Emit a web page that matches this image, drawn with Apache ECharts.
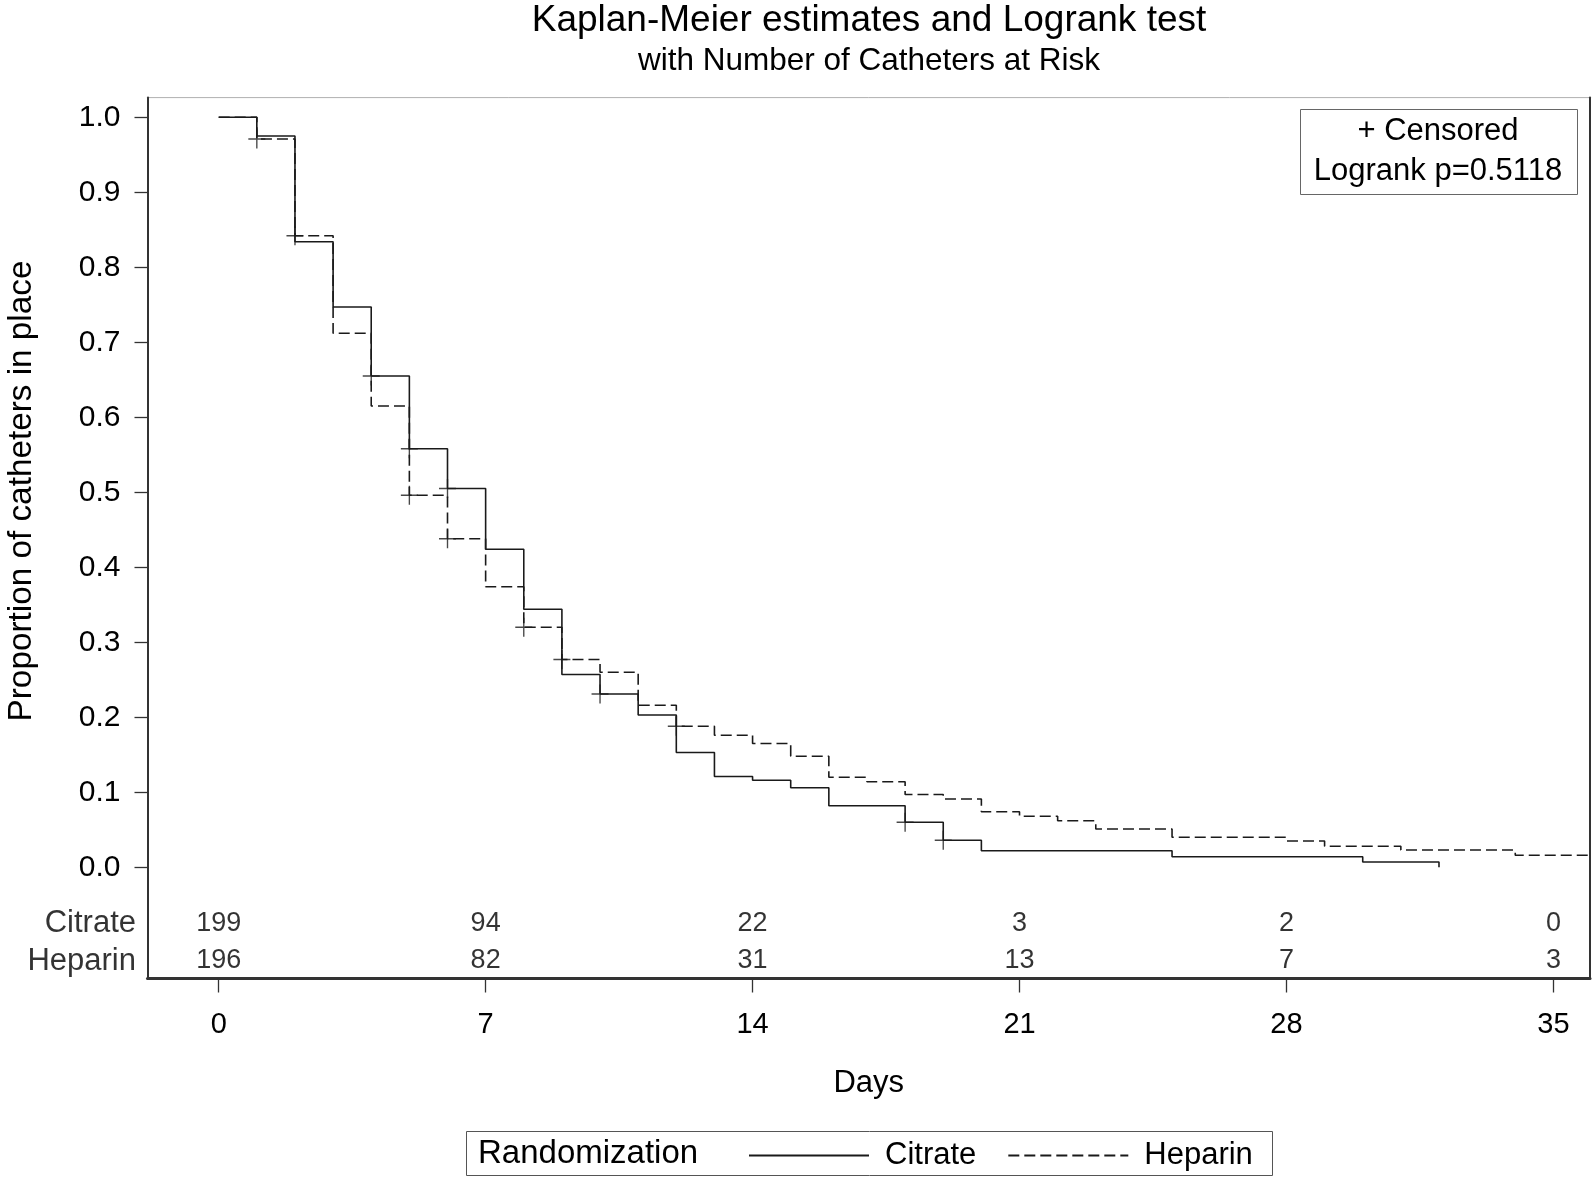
<!DOCTYPE html>
<html><head><meta charset="utf-8">
<script src="https://cdn.jsdelivr.net/npm/echarts@6/dist/echarts.min.js"></script>
<style>html,body{margin:0;padding:0;background:#fff}#c{width:1595px;height:1180px}</style>
</head><body><div id="c"></div>
<script>
// ---- data ----
const citrateTime = [0,1,2,3,4,5,6,7,8,9,10,11,12,13,14,15,16,18,19,20,25,30,32];
const citrateSurv = [1.0,0.975,0.834,0.747,0.655,0.558,0.505,0.424,0.344,0.257,0.231,0.203,0.153,0.121,0.116,0.106,0.082,0.060,0.036,0.022,0.014,0.007,0.0];
const heparinTime = [0,1,2,3,4,5,6,7,8,9,10,11,12,13,14,15,16,17,18,19,20,21,22,23,25,28,29,31,34,36];
const heparinSurv = [1.0,0.971,0.842,0.712,0.615,0.496,0.438,0.374,0.320,0.277,0.260,0.216,0.188,0.176,0.165,0.148,0.120,0.114,0.097,0.091,0.074,0.068,0.062,0.051,0.040,0.035,0.028,0.023,0.016,0.016];
const citrateCensorTime = [4,5,6,10,18,19];
const citrateCensorSurv = [0.655,0.558,0.505,0.231,0.060,0.036];
const heparinCensorTime = [1,2,5,6,8,9,12];
const heparinCensorSurv = [0.971,0.842,0.496,0.438,0.320,0.277,0.188];
const riskDays = [0,7,14,21,28,35];
const citrateAtRisk = [199,94,22,3,2,0];
const heparinAtRisk = [196,82,31,13,7,3];
const groups = ['Citrate','Heparin'];
const xTicks = [0,7,14,21,28,35];
const yTicks = [0,0.1,0.2,0.3,0.4,0.5,0.6,0.7,0.8,0.9,1.0];

// ---- layout ----
const FONT = '"Liberation Sans", Arial, sans-serif';
const X_MIN = -1.867, X_MAX = 35.96, Y_MIN = -0.1483, Y_MAX = 1.0263;
const ROW_Y = [-0.0750, -0.1250];
const PLUS = 'path://M0,9.2h20v1.6h-20z M9.2,0h1.6v20h-1.6z';
const INK = '#1a1a1a';

const chart = echarts.init(document.getElementById('c'));
const pairs = (xs, ys) => xs.map((x, i) => [x, ys[i]]);

const option = {
  animation: false,
  backgroundColor: '#fff',
  textStyle: { fontFamily: FONT, color: '#000' },
  grid: { left: 147.5, right: 5, top: 97.6, bottom: 201.5, show: true, borderColor: '#b0b0b0', borderWidth: 1, backgroundColor: 'transparent' },
  legend: {
    data: groups, left: 743, top: 1135, itemWidth: 120, itemHeight: 20, itemGap: 31,
    itemStyle: { opacity: 0 },
    textStyle: { fontSize: 31, fontFamily: FONT, color: '#000', padding: [0,0,0,11] },
    selectedMode: false
  },
  xAxis: {
    type: 'value', min: X_MIN, max: X_MAX,
    name: 'Days', nameLocation: 'middle', nameGap: 89,
    nameTextStyle: { fontSize: 31, fontFamily: FONT, color: '#000' },
    axisLine: { show: true, onZero: false, lineStyle: { color: '#333', width: 3 } },
    axisTick: { show: true, customValues: xTicks, length: 14, lineStyle: { color: '#333', width: 1.3 } },
    axisLabel: { customValues: xTicks, fontSize: 29, fontFamily: FONT, color: '#000', margin: 32, formatter: v => String(v) },
    splitLine: { show: false }
  },
  yAxis: [{
    type: 'value', min: Y_MIN, max: Y_MAX,
    axisLine: { show: true, onZero: false, lineStyle: { color: '#333', width: 2 } },
    axisTick: { show: true, customValues: yTicks, length: 13, lineStyle: { color: '#333', width: 1.3 } },
    axisLabel: { customValues: yTicks, fontSize: 30, fontFamily: FONT, color: '#000', margin: 27, formatter: v => v.toFixed(1) },
    splitLine: { show: false }
  }, {
    type: 'value', min: Y_MIN, max: Y_MAX, position: 'right',
    axisLine: { show: true, onZero: false, lineStyle: { color: '#333', width: 2 } },
    axisTick: { show: false }, axisLabel: { show: false }, splitLine: { show: false }
  }],
  series: [
    { type: 'line', name: 'Citrate', step: 'end', data: pairs(citrateTime, citrateSurv),
      showSymbol: false, symbol: 'none', z: 3,
      lineStyle: { color: INK, width: 1.6, type: 'solid' }, itemStyle: { color: INK } },
    { type: 'line', name: 'Heparin', step: 'end', data: pairs(heparinTime, heparinSurv),
      showSymbol: false, symbol: 'none', z: 3,
      lineStyle: { color: INK, width: 1.6, type: [11,5] }, itemStyle: { color: INK } },
    { type: 'scatter', name: 'Citrate censored', data: pairs(citrateCensorTime, citrateCensorSurv),
      symbol: PLUS, symbolSize: [17,19], itemStyle: { color: INK }, z: 4, silent: true },
    { type: 'scatter', name: 'Heparin censored', data: pairs(heparinCensorTime, heparinCensorSurv),
      symbol: PLUS, symbolSize: [17,19], itemStyle: { color: INK }, z: 4, silent: true },
    ...[citrateAtRisk, heparinAtRisk].map((arr, g) => ({
      type: 'scatter', name: groups[g] + ' at risk', silent: true, clip: false,
      data: riskDays.map((d, i) => [d, ROW_Y[g], arr[i]]),
      symbolSize: 1, itemStyle: { color: 'rgba(0,0,0,0)' },
      label: { show: true, position: 'inside', formatter: p => String(p.value[2]), fontSize: 27, fontFamily: FONT, color: '#000' }
    })),
    { type: 'scatter', name: 'row labels', silent: true, clip: false,
      data: groups.map((g, i) => ({ value: [X_MIN, ROW_Y[i]], name: g })),
      symbolSize: 1, itemStyle: { color: 'rgba(0,0,0,0)' },
      label: { show: true, position: 'left', distance: 11, formatter: p => p.name, fontSize: 31, fontFamily: FONT, color: '#000' } }
  ],
  graphic: [
    { type: 'text', x: 869, y: 21, style: { text: 'Kaplan-Meier estimates and Logrank test', fontSize: 37, fontFamily: FONT, fill: '#000', align: 'center', verticalAlign: 'middle' } },
    { type: 'text', x: 869, y: 61, style: { text: 'with Number of Catheters at Risk', fontSize: 31.5, fontFamily: FONT, fill: '#000', align: 'center', verticalAlign: 'middle' } },
    { type: 'text', x: 22, y: 491, rotation: Math.PI / 2, style: { text: 'Proportion of catheters in place', fontSize: 33.3, fontFamily: FONT, fill: '#000', align: 'center', verticalAlign: 'middle' } },
    { type: 'rect', shape: { x: 1300.5, y: 109.5, width: 277, height: 85 }, style: { fill: '#fff', stroke: '#666', lineWidth: 1 } },
    { type: 'text', x: 1438, y: 131, style: { text: '+ Censored', fontSize: 31, fontFamily: FONT, fill: '#000', align: 'center', verticalAlign: 'middle' } },
    { type: 'text', x: 1438, y: 171, style: { text: 'Logrank p=0.5118', fontSize: 31, fontFamily: FONT, fill: '#000', align: 'center', verticalAlign: 'middle' } },
    { type: 'rect', shape: { x: 466.5, y: 1131.5, width: 806, height: 44 }, style: { fill: 'none', stroke: '#555', lineWidth: 1 } },
    { type: 'text', x: 478, y: 1154, style: { text: 'Randomization', fontSize: 33, fontFamily: FONT, fill: '#000', align: 'left', verticalAlign: 'middle' } }
  ]
};
chart.setOption(option);
</script>
</body></html>
